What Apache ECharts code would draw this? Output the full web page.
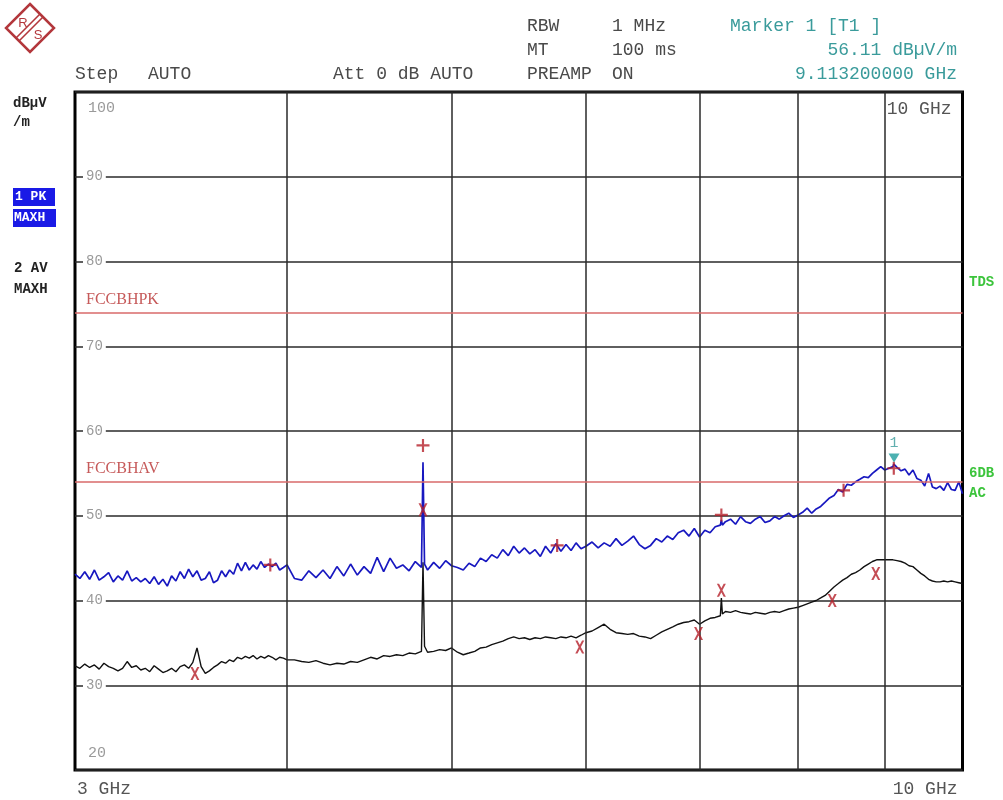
<!DOCTYPE html>
<html>
<head>
<meta charset="utf-8">
<script src="https://cdn.jsdelivr.net/npm/echarts@6/dist/echarts.min.js"></script>
<style>
html,body{margin:0;padding:0;background:#fff;}
#chart{width:1003px;height:800px;}
</style>
</head>
<body>
<div id="chart"></div>
<script>
// ---- data ----
const freqGHz = [
  3.00,3.02,3.04,3.06,3.08,3.10,3.12,3.14,3.16,3.18,
  3.20,3.22,3.24,3.26,3.28,3.30,3.32,3.34,3.36,3.38,
  3.40,3.42,3.44,3.46,3.48,3.50,3.52,3.54,3.56,3.58,
  3.60,3.62,3.64,3.66,3.68,3.70,3.72,3.74,3.76,3.78,
  3.80,3.82,3.84,3.86,3.88,3.90,3.92,3.94,3.96,3.98,
  4.00,
  4.04,4.08,4.12,4.16,4.20,4.24,4.28,4.32,4.36,4.40,
  4.44,4.48,4.52,4.56,4.60,4.64,4.68,4.72,4.76,4.80,
  4.81,4.82,4.84,4.88,4.92,4.96,5.00,
  5.04,5.08,5.12,5.16,5.20,5.24,5.28,5.32,5.36,5.40,
  5.44,5.48,5.52,5.56,5.60,5.64,5.68,5.72,5.76,5.80,
  5.84,5.88,5.92,5.96,6.00,
  6.05,6.10,6.15,6.20,6.25,6.30,6.35,6.40,6.45,6.50,
  6.55,6.60,6.65,6.70,6.75,6.80,6.85,6.90,6.95,7.00,
  7.05,7.10,7.15,7.20,7.21,7.22,7.25,7.30,7.35,7.40,
  7.45,7.50,7.55,7.60,7.65,7.70,7.75,7.80,7.85,7.90,
  7.95,8.00,
  8.05,8.10,8.15,8.20,8.25,8.30,8.35,8.40,8.45,8.50,
  8.55,8.60,8.65,8.70,8.75,8.80,8.85,8.90,8.95,9.00,
  9.05,9.10,9.11,9.15,9.20,9.25,9.30,9.35,9.40,9.45,
  9.50,9.55,9.60,9.65,9.70,9.75,9.80,9.85,9.90,9.95,
  10.00
];
// Trace 1: PK MAXH (dBuV/m)
const peakTrace = [
  43.1,42.6,43.4,42.5,43.6,42.4,42.8,43.3,42.2,42.9,
  42.4,43.5,42.3,42.7,42.2,42.6,42.0,42.8,41.9,42.5,
  41.7,42.9,42.3,43.4,42.6,43.7,42.8,43.5,42.4,42.6,
  43.4,42.1,42.4,43.5,42.8,43.6,43.1,44.4,43.5,44.5,
  43.6,44.2,43.7,44.6,43.9,44.3,44.0,44.4,43.6,43.9,
  44.2,
  42.6,42.4,43.5,42.7,43.6,42.6,44.0,42.9,44.3,43.0,
  44.0,43.2,45.1,43.4,45.0,43.8,44.2,43.5,44.6,43.9,
  56.3,44.3,43.6,44.5,43.8,44.7,44.1,
  43.9,43.6,44.4,44.0,45.0,44.6,45.4,45.0,46.0,45.3,
  46.4,45.6,46.2,45.5,46.0,45.2,46.4,45.6,46.7,45.8,
  46.6,45.9,46.8,46.1,46.4,
  46.9,46.2,46.8,46.4,47.3,46.5,47.0,47.6,46.6,46.1,
  46.5,47.3,46.9,47.6,47.2,48.0,48.3,47.6,48.5,47.5,
  48.3,48.0,48.7,48.9,49.5,48.9,49.3,49.6,49.0,49.9,
  49.3,49.1,49.6,49.9,49.2,49.4,49.9,49.6,50.0,50.3,
  49.8,50.1,
  50.4,50.9,50.3,50.8,51.1,51.6,52.1,52.4,53.1,52.8,
  53.7,53.6,54.0,54.3,54.6,54.5,55.0,55.4,55.8,55.4,
  55.6,55.8,56.1,55.7,55.3,55.5,54.8,55.4,54.4,54.2,
  53.5,55.0,53.4,53.2,53.5,53.0,53.9,53.1,53.0,54.0,
  52.6
];
// Trace 2: AV MAXH (dBuV/m)
const avgTrace = [
  32.3,32.0,32.5,32.1,32.4,31.9,32.6,32.2,32.0,31.7,
  32.0,32.8,32.1,32.3,31.8,32.0,31.6,32.3,31.9,31.5,
  31.7,32.0,31.6,32.2,32.4,32.0,32.7,34.4,32.2,31.4,
  31.7,32.1,32.4,32.8,32.6,33.0,32.8,33.3,33.1,33.4,
  33.2,33.5,33.1,33.4,33.2,33.5,33.3,33.0,33.3,33.2,
  33.0,
  33.0,32.8,32.7,32.9,32.6,32.4,32.6,32.5,32.8,32.7,
  33.0,33.3,33.1,33.5,33.4,33.6,33.5,33.8,33.7,34.0,
  44.5,34.6,33.9,34.0,34.2,34.1,34.4,
  33.9,33.6,33.8,34.0,34.4,34.5,34.8,35.0,35.2,35.5,
  35.7,35.5,35.6,35.4,35.6,35.5,35.7,35.6,35.5,35.7,
  35.6,35.8,35.6,35.9,36.2,
  36.4,36.8,37.2,36.6,36.2,36.1,36.0,36.1,35.8,35.7,
  35.5,35.9,36.3,36.6,36.9,37.2,37.4,37.5,37.7,37.2,
  37.6,37.9,38.0,38.2,40.3,38.4,38.7,38.6,38.8,38.6,
  38.5,38.4,38.6,38.5,38.4,38.6,38.7,38.6,38.8,39.0,
  39.1,39.2,
  39.4,39.6,39.8,40.0,40.3,40.6,41.1,41.6,42.0,42.4,
  42.7,43.1,43.3,43.6,44.0,44.3,44.6,44.8,44.8,44.8,
  44.8,44.8,44.8,44.7,44.6,44.4,44.1,44.0,43.6,43.2,
  42.9,42.5,42.3,42.2,42.2,42.3,42.2,42.3,42.2,42.1,
  42.0
];
// peak-list markers ("+") on trace 1
const peakMarkFreq = [3.91, 4.81, 5.77, 7.21, 8.51, 9.11];
const peakMarkVal  = [44.2, 58.3, 46.5, 50.1, 53.0, 55.6];
// peak-list markers ("X") on trace 2
const avgMarkFreq = [3.53, 4.81, 5.95, 6.99, 7.21, 8.38, 8.89];
const avgMarkVal  = [31.4, 50.7, 34.5, 36.1, 41.2, 40.0, 43.2];
// marker 1
const marker1 = [9.1132, 56.11];
// limit lines
const limitNames = ['FCCBHPK', 'FCCBHAV'];
const limitVals  = [74, 54];
// grid frequencies (GHz)
const gridFreqs = [4, 5, 6, 7, 8, 9];

// ---- chart ----
const MONO = '"Liberation Mono", monospace';
const TXT = '#4a4a4a';
const TEAL = '#3a9b9b';
const GREEN = '#3cc43c';
const RED = '#b5202a';

const plusPath = 'path://M5,0H7V12H5Z M0,5H12V7H0Z';
const xPath = 'path://M0,0H2.2L9,13H6.8Z M6.8,0H9L2.2,13H0Z';

function t(x, y, text, o) {
  o = o || {};
  return {
    type: 'text', x: x, y: y, silent: true, z: 100,
    style: {
      text: text,
      fill: o.fill || TXT,
      font: (o.weight || 'normal') + ' ' + (o.size || 18) + 'px ' + (o.family || MONO),
      align: o.align || 'left',
      verticalAlign: 'middle'
    }
  };
}

const chart = echarts.init(document.getElementById('chart'), null, {renderer: 'canvas'});

const option = {
  animation: false,
  backgroundColor: '#fff',
  grid: {
    left: 75, top: 92, right: 40.5, bottom: 30,
    show: true, borderColor: '#000', borderWidth: 3,
    outerBoundsMode: 'none', containLabel: false
  },
  xAxis: [{
    type: 'log', logBase: 10, min: 3, max: 10,
    axisLine: {show: false}, axisTick: {show: false},
    splitLine: {show: false}, minorSplitLine: {show: false},
    axisLabel: {
      show: true, margin: 10, color: '#555', fontFamily: MONO, fontSize: 18,
      showMinLabel: true, showMaxLabel: true,
      alignMinLabel: 'left', alignMaxLabel: 'right',
      padding: [0, 5, 0, 2],
      formatter: function (v) { return (Math.round(v * 100) / 100) + ' GHz'; }
    }
  }, {
    type: 'log', logBase: 10, min: 3, max: 10, position: 'top',
    axisLine: {show: false}, axisTick: {show: false},
    splitLine: {show: false},
    axisLabel: {
      show: true, inside: true, margin: 8, color: '#555', fontFamily: MONO, fontSize: 18,
      showMinLabel: true, showMaxLabel: true, alignMaxLabel: 'right',
      padding: [0, 11, 0, 0],
      formatter: function (v) { return v > 9.99 ? '10 GHz' : ''; }
    }
  }],
  yAxis: {
    type: 'value', min: 20, max: 100, interval: 10,
    axisLine: {show: false}, axisTick: {show: false},
    splitLine: {show: true, lineStyle: {color: '#2a2a2a', width: 1.5}},
    axisLabel: {
      inside: true, margin: 8,
      formatter: function (v) {
        if (v === 100) return '{top|' + v + '}';
        if (v === 20) return '{bot|' + v + '}';
        return '{mid|' + v + '}';
      },
      rich: {
        mid: {backgroundColor: '#fff', padding: [2, 3, 2, 3], color: '#9a9a9a', fontFamily: MONO, fontSize: 14},
        top: {padding: [32, 0, 0, 5], color: '#9a9a9a', fontFamily: MONO, fontSize: 15},
        bot: {padding: [0, 0, 34, 5], color: '#9a9a9a', fontFamily: MONO, fontSize: 15}
      }
    }
  },
  series: [
    {
      name: 'AV', type: 'line', xAxisIndex: 0,
      data: freqGHz.map(function (f, i) { return [f, avgTrace[i]]; }),
      showSymbol: false, symbol: 'none',
      lineStyle: {color: '#111', width: 1.4},
      z: 3,
      markLine: {
        silent: true, symbol: 'none', animation: false,
        label: {show: false},
        lineStyle: {color: '#2a2a2a', width: 1.5, type: 'solid'},
        data: gridFreqs.map(function (f) { return {xAxis: f}; })
      }
    },
    {
      name: 'PK', type: 'line', xAxisIndex: 0,
      data: freqGHz.map(function (f, i) { return [f, peakTrace[i]]; }),
      showSymbol: false, symbol: 'none',
      lineStyle: {color: '#1818c0', width: 1.7},
      z: 4,
      markLine: {
        silent: true, symbol: 'none', animation: false,
        lineStyle: {color: '#d86a6a', width: 1.5, type: 'solid'},
        label: {
          show: true, position: 'insideStartTop', distance: 5,
          formatter: '{b}', color: '#c65a5a',
          fontFamily: '"Liberation Serif", serif', fontSize: 16,
          padding: [0, 0, 0, 6]
        },
        data: limitNames.map(function (n, i) { return {name: n, yAxis: limitVals[i]}; })
      }
    },
    {
      name: 'PKmarks', type: 'scatter', xAxisIndex: 0,
      data: peakMarkFreq.map(function (f, i) { return [f, peakMarkVal[i]]; }),
      symbol: plusPath, symbolSize: [13, 13],
      itemStyle: {color: RED}, z: 6, silent: true
    },
    {
      name: 'AVmarks', type: 'scatter', xAxisIndex: 0,
      data: avgMarkFreq.map(function (f, i) { return [f, avgMarkVal[i]]; }),
      symbol: xPath, symbolSize: [9, 13],
      itemStyle: {color: RED}, z: 6, silent: true
    },
    {
      name: 'M1', type: 'scatter', xAxisIndex: 0,
      data: [marker1],
      symbol: 'triangle', symbolRotate: 180, symbolSize: [11, 9], symbolOffset: [0, -6],
      itemStyle: {color: '#1f9e9e'}, z: 7, silent: true,
      label: {
        show: true, position: 'top', distance: 3, formatter: '1',
        color: TEAL, fontFamily: MONO, fontSize: 15
      }
    }
  ],
  graphic: [
    // R&S logo
    {type: 'polygon', silent: true, shape: {points: [[30, 4], [54, 28], [30, 52], [6, 28]]},
      style: {fill: 'none', stroke: '#b3373c', lineWidth: 2.5}},
    {type: 'line', silent: true, shape: {x1: 16, y1: 38, x2: 40, y2: 14}, style: {stroke: '#b3373c', lineWidth: 1.6}},
    {type: 'line', silent: true, shape: {x1: 19, y1: 41, x2: 43, y2: 17}, style: {stroke: '#b3373c', lineWidth: 1.6}},
    t(23, 23, 'R', {fill: '#b3373c', size: 13, family: '"Liberation Sans", sans-serif', align: 'center'}),
    t(38, 35, 'S', {fill: '#b3373c', size: 13, family: '"Liberation Sans", sans-serif', align: 'center'}),
    // header
    t(527, 26, 'RBW'), t(612, 26, '1 MHz'), t(730, 26, 'Marker 1 [T1 ]', {fill: TEAL}),
    t(527, 50, 'MT'), t(612, 50, '100 ms'), t(957, 50, '56.11 dBµV/m', {fill: TEAL, align: 'right'}),
    t(75, 74, 'Step'), t(148, 74, 'AUTO'), t(333, 74, 'Att 0 dB AUTO'),
    t(527, 74, 'PREAMP'), t(612, 74, 'ON'), t(957, 74, '9.113200000 GHz', {fill: TEAL, align: 'right'}),
    // left side
    t(13, 103, 'dBµV', {weight: 'bold', size: 14, fill: '#222'}),
    t(13, 122, '/m', {weight: 'bold', size: 14, fill: '#222'}),
    {type: 'rect', silent: true, shape: {x: 13, y: 188, width: 42, height: 18}, style: {fill: '#1a1ae6'}},
    {type: 'rect', silent: true, shape: {x: 13, y: 209, width: 43, height: 18}, style: {fill: '#1a1ae6'}},
    t(15, 197, '1 PK', {weight: 'bold', size: 13, fill: '#fff'}),
    t(14, 218, 'MAXH', {weight: 'bold', size: 13, fill: '#fff'}),
    t(14, 268, '2 AV', {weight: 'bold', size: 14, fill: '#222'}),
    t(14, 289, 'MAXH', {weight: 'bold', size: 14, fill: '#222'}),
    // right side
    t(969, 282, 'TDS', {weight: 'bold', size: 14, fill: GREEN}),
    t(969, 473, '6DB', {weight: 'bold', size: 14, fill: GREEN}),
    t(969, 493, 'AC', {weight: 'bold', size: 14, fill: GREEN})
  ]
};
chart.setOption(option);
</script>
</body>
</html>
